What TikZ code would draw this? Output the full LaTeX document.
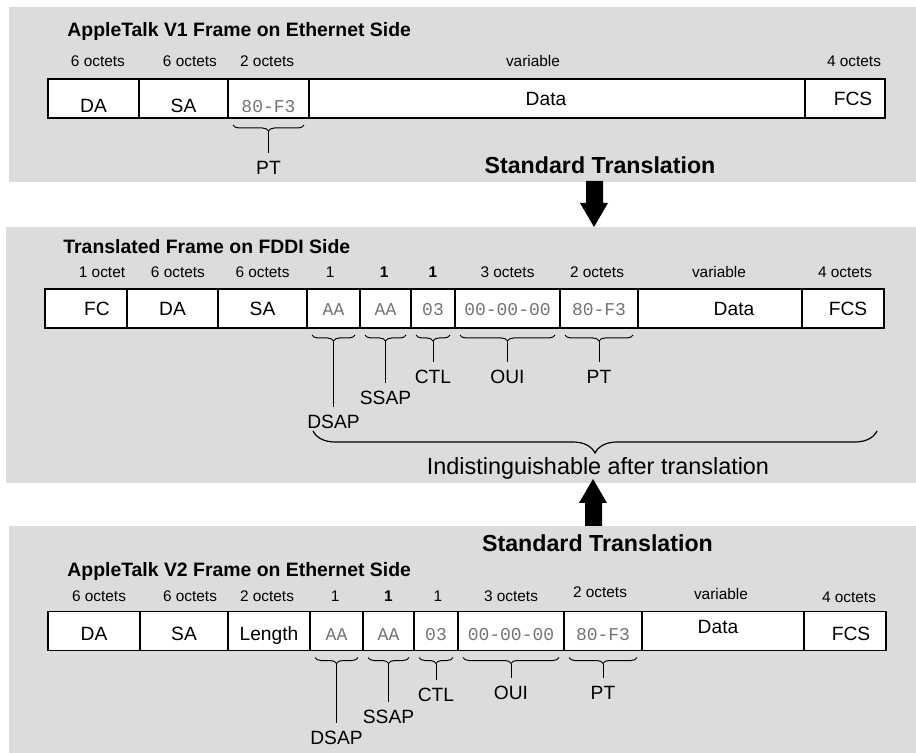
\documentclass[tikz,border=0pt]{standalone}
\usepackage{fontspec}
\setmainfont{Liberation Sans}
\setmonofont{Liberation Mono}
\usetikzlibrary{positioning,decorations.pathreplacing}
\definecolor{panelgray}{RGB}{220,220,220}
\tikzset{
  field/.style={draw, fill=white, line width=0.7pt, minimum height=19.5pt,
    inner sep=0pt, outer sep=0pt, text height=#1, text depth=0pt,
    font=\fontsize{9.6}{11}\selectfont},
  field/.default=7pt,
  hex/.style={font=\ttfamily\fontsize{9}{11}\selectfont, text=black!55},
  octets/.style={font=\fontsize{7.7}{9}\selectfont, anchor=base, inner sep=0pt},
  tag/.style={font=\fontsize{9.6}{11}\selectfont, inner sep=0pt, outer sep=4pt,
    text height=7pt, text depth=0pt},
  brc/.style={decorate, decoration={brace, amplitude=3pt, mirror}, line width=0.5pt},
  bigbrc/.style={decorate, decoration={brace, amplitude=11pt, mirror}, line width=0.6pt},
  title/.style={font=\bfseries\fontsize{9.7}{11}\selectfont, anchor=base west, inner sep=0pt},
  std/.style={font=\bfseries\fontsize{11.6}{13}\selectfont, anchor=base, inner sep=0pt}
}
\begin{document}
\begin{tikzpicture}[x=0.5pt, y=-0.5pt]
  \useasboundingbox (0,0) rectangle (916,753);
  % panels
  \fill[panelgray] (9,7) rectangle (916,182);
  \fill[panelgray] (6,227) rectangle (916,483);
  \fill[panelgray] (9,526) rectangle (916,753);

  % AppleTalk V1
  \node[title] (v1title) at (67,37) {AppleTalk V1 Frame on Ethernet Side};
  \node[field=14pt, minimum width=45.5pt, anchor=west] (v1da) at (48,98.5) {DA};
  \node[field=14pt, minimum width=44.5pt, right=0pt of v1da] (v1sa) {SA};
  \node[field=14pt, hex, minimum width=40.5pt, right=0pt of v1sa] (v1pt) {80-F3};
  \node[field, minimum width=248pt, right=0pt of v1pt] (v1data) {Data\hspace*{11pt}};
  \node[field, minimum width=40pt, right=0pt of v1data] (v1fcs) {\hspace*{8pt}FCS};
  \foreach \f/\dx/\t in {v1da/2.2pt/6 octets, v1sa/3.2pt/6 octets, v1pt/-0.7pt/2 octets,
      v1data/-12pt/variable, v1fcs/4.5pt/4 octets}
    \node[octets] (\f-len) at ([xshift=\dx, yshift=6.2pt]\f.north) {\t};
  \node[std] (std1) at (600,174) {Standard Translation};

  % FDDI side
  \node[title] (fdtitle) at (63,254) {Translated Frame on FDDI Side};
  \node[field, minimum width=41pt, anchor=west] (fdfc) at (45,308.5) {\hspace*{11pt}FC};
  \node[field, minimum width=45.5pt, right=0pt of fdfc] (fdda) {DA};
  \node[field, minimum width=44.5pt, right=0pt of fdda] (fdsa) {SA};
  \node[field, hex, minimum width=26.5pt, right=0pt of fdsa] (fddsap) {AA};
  \node[field, hex, minimum width=25.5pt, right=0pt of fddsap] (fdssap) {AA};
  \node[field, hex, minimum width=22pt, right=0pt of fdssap] (fdctl) {03};
  \node[field, hex, minimum width=52.5pt, right=0pt of fdctl] (fdoui) {00-00-00};
  \node[field, hex, minimum width=39pt, right=0pt of fdoui] (fdpt) {80-F3};
  \node[field, minimum width=82pt, right=0pt of fdpt] (fddata) {\hspace*{14pt}Data};
  \node[field, minimum width=41pt, right=0pt of fddata] (fdfcs) {\hspace*{5pt}FCS};
  \foreach \f/\dx/\t in {fdfc/8pt/1 octet, fdda/2.7pt/6 octets, fdsa/0pt/6 octets,
      fddsap/-1.7pt/1, fdssap/-0.7pt/\textbf{1}, fdctl/0pt/\textbf{1},
      fdoui/0pt/3 octets, fdpt/-1pt/2 octets, fddata/-0.5pt/variable, fdfcs/1pt/4 octets}
    \node[octets] (\f-len) at ([xshift=\dx, yshift=5.5pt]\f.north) {\t};

  % AppleTalk V2
  \node[std] (std2) at (597.5,552) {Standard Translation};
  \node[title] (v2title) at (67,576) {AppleTalk V2 Frame on Ethernet Side};
  \begin{scope}[every node/.append style={minimum height=20pt}]
    \node[field=9.5pt, minimum width=46pt, anchor=west] (v2da) at (48,631) {DA};
    \node[field=9.5pt, minimum width=44pt, right=0pt of v2da] (v2sa) {SA};
    \node[field=9.5pt, minimum width=41pt, right=0pt of v2sa] (v2len) {Length};
    \node[field=9.5pt, hex, minimum width=26.5pt, right=0pt of v2len] (v2dsap) {AA};
    \node[field=9.5pt, hex, minimum width=25.5pt, right=0pt of v2dsap] (v2ssap) {AA};
    \node[field=9.5pt, hex, minimum width=22pt, right=0pt of v2ssap] (v2ctl) {03};
    \node[field=9.5pt, hex, minimum width=53pt, right=0pt of v2ctl] (v2oui) {00-00-00};
    \node[field=9.5pt, hex, minimum width=39pt, right=0pt of v2oui] (v2pt) {80-F3};
    \node[field=2pt, minimum width=81pt, right=0pt of v2pt] (v2data) {Data\hspace*{5pt}};
    \node[field=9.5pt, minimum width=41pt, right=0pt of v2data] (v2fcs) {\hspace*{6pt}FCS};
  \end{scope}
  \foreach \f/\dx/\dy/\t in {v2da/2.5pt/5.2pt/6 octets, v2sa/3pt/5.2pt/6 octets,
      v2len/-1pt/5.2pt/2 octets, v2dsap/-0.7pt/5.2pt/1, v2ssap/0pt/5.2pt/\textbf{1},
      v2ctl/1pt/5.2pt/1, v2oui/0pt/5pt/3 octets, v2pt/-1.5pt/7pt/2 octets,
      v2data/-1pt/6pt/variable, v2fcs/2pt/4.5pt/4 octets}
    \node[octets] (\f-len) at ([xshift=\dx, yshift=\dy]\f.north) {\t};

  % braces and field names
  \foreach \f/\d/\t in {v1pt/25pt/PT, fddsap/47pt/DSAP, fdssap/35pt/SSAP,
      fdctl/24.5pt/CTL, fdoui/24.5pt/OUI, fdpt/24.5pt/PT,
      v2dsap/43.5pt/DSAP, v2ssap/33pt/SSAP, v2ctl/22pt/CTL,
      v2oui/21pt/OUI, v2pt/21pt/PT} {
    \draw[brc] ([xshift=2.5pt, yshift=-3.5pt]\f.south west)
      -- ([xshift=-2.5pt, yshift=-3.5pt]\f.south east);
    \coordinate (\f-tip) at ([yshift=-6.5pt]\f.south);
    \node[tag] (\f-lab) at ([yshift=-\d]\f.south) {\t};
    \draw[line width=0.5pt] (\f-tip) -- (\f-lab);
  }

  % indistinguishable part
  \coordinate (indl) at (313,431);
  \coordinate (indr) at (877,431);
  \draw[bigbrc] (indl) -- (indr);
  \node[font=\fontsize{11.7}{13}\selectfont, anchor=base, inner sep=0pt] (indist)
    at (598,475) {Indistinguishable after translation};

  % translation arrows
  \fill (586,181) -- (603,181) -- (603,203) -- (608,203) -- (594,227)
    -- (580,203) -- (586,203) -- cycle;
  \fill (585,526) -- (602,526) -- (602,503) -- (607,503) -- (593,479)
    -- (579,503) -- (585,503) -- cycle;
\end{tikzpicture}
\end{document}
